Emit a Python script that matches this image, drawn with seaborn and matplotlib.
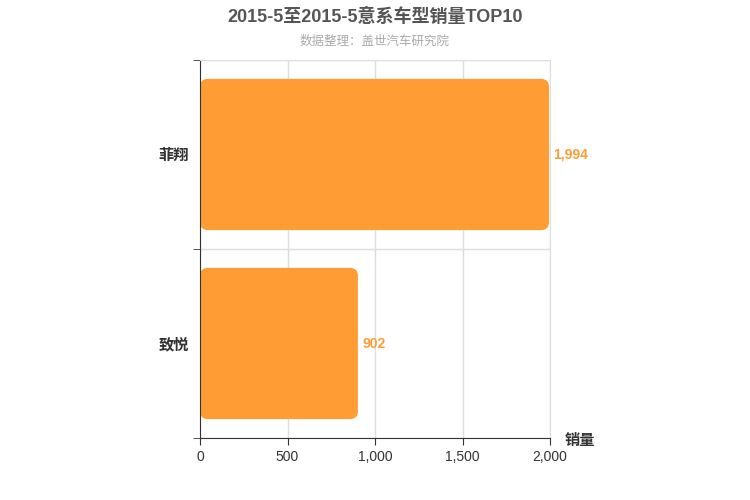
import matplotlib
matplotlib.use("Agg")
import matplotlib.pyplot as plt
import seaborn as sns
import pandas as pd
from matplotlib.patches import FancyBboxPatch

models = ["菲翔", "致悦"]
sales = [1994, 902]
x_ticks = [0, 500, 1000, 1500, 2000]

sns.set_style("white")
plt.rcParams['font.family'] = ['Liberation Sans', 'Noto Sans CJK SC']

df = pd.DataFrame({"model": models, "sales": sales})
fig = plt.figure(figsize=(7.5, 5), dpi=100)
ax = fig.add_axes([0.2667, 0.124, 0.4667, 0.756])
sns.barplot(data=df, y="model", x="sales", color="#ff9c33", width=0.8, ax=ax, saturation=1)

ax.set_xlim(0, 2000)
ax.set_ylim(1.5, -0.5)

# swap bars for rounded ones (x units per px ~5.71, y units per px ~0.00529)
for p in list(ax.patches):
    x, y, w, h = p.get_x(), p.get_y(), p.get_width(), p.get_height()
    p.remove()
    ax.add_patch(FancyBboxPatch((x, y), w, h, boxstyle="round,pad=0,rounding_size=45",
                                mutation_aspect=0.00093, fc="#ff9c33", ec="none", zorder=2))

for i, v in enumerate(sales):
    ax.text(v + 25, i, f"{v:,}", va="center", ha="left", color="#ff9c33",
            fontsize=10, fontweight="bold")

ax.set_xticks(x_ticks)
ax.set_xticklabels([f"{t:,}" for t in x_ticks], fontsize=10, color="#333")
ax.set_yticks([0, 1])
ax.set_yticklabels(models, fontsize=11, fontweight="bold", color="#333")
ax.set_yticks([-0.5, 0.5, 1.5], minor=True)
ax.tick_params(axis="y", which="major", left=False, length=0, pad=8)
ax.tick_params(axis="y", which="minor", left=True, length=5, color="#333")
ax.tick_params(axis="x", bottom=True, length=5, color="#333")
ax.set_xlabel("")
ax.set_ylabel("")
ax.set_axisbelow(True)
ax.grid(axis="x", color="#dddddd", lw=1)
ax.grid(axis="y", which="minor", color="#dddddd", lw=1)
for s in ["top", "right"]:
    ax.spines[s].set_color("#dddddd")
for s in ["left", "bottom"]:
    ax.spines[s].set_color("#333")

fig.text(0.753, 0.11, "销量", fontsize=11, fontweight="bold", color="#333")
fig.text(0.5, 0.955, "2015-5至2015-5意系车型销量TOP10", ha="center", fontsize=13,
         fontweight="bold", color="#555")
fig.text(0.5, 0.91, "数据整理：盖世汽车研究院", ha="center", fontsize=9, color="#aaa")

fig.savefig("out.png", dpi=100)
